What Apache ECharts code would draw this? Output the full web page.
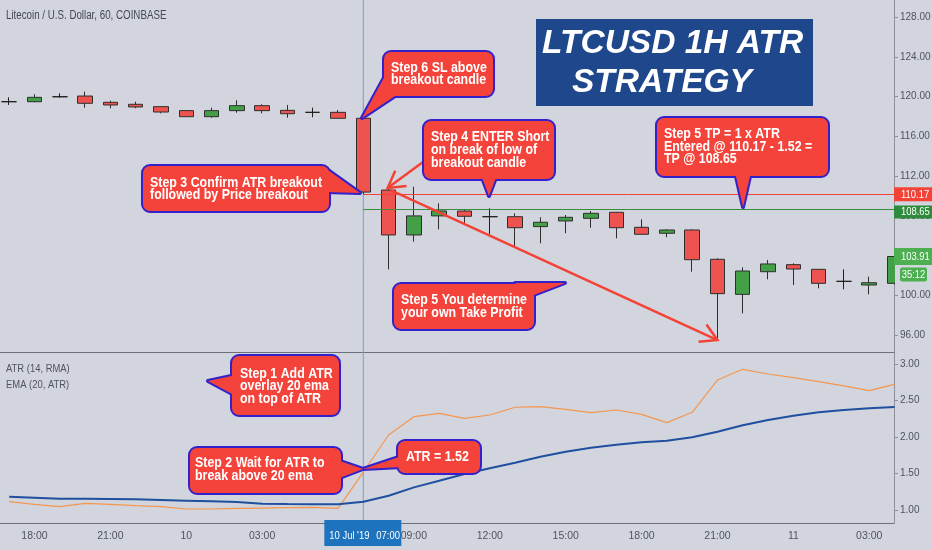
<!DOCTYPE html>
<html><head><meta charset="utf-8">
<script src="https://cdn.jsdelivr.net/npm/echarts@6/dist/echarts.min.js"></script>
<style>html,body{margin:0;padding:0;background:#d2d5dd;}#c{width:932px;height:550px;}</style>
</head><body><div id="c"></div>
<script>
// ---- data (hours since 2019-07-09 00:00) ----
const hours  = [17,18,19,20,21,22,23,24,25,26,27,28,29,30,31,32,33,34,35,36,37,38,39,40,41,42,43,44,45,46,47,48,49,50,51,52];
const opens  = [119.50,119.50,120.00,120.07,119.44,119.24,119.00,118.60,117.99,118.60,119.10,118.63,118.43,118.43,117.83,110.60,106.08,108.00,108.49,107.92,107.92,106.92,107.49,107.76,108.36,106.85,106.25,106.58,103.63,100.10,102.38,103.09,102.62,101.41,101.04,101.21];
const closes = [119.50,119.94,120.00,119.34,119.17,118.97,118.46,117.99,118.60,119.10,118.60,118.29,118.43,117.83,110.40,106.08,108.00,108.50,107.96,107.92,106.81,107.36,107.86,108.26,106.81,106.15,106.58,103.59,100.17,102.45,103.16,102.65,101.21,101.41,101.27,103.91];
const lows   = [119.17,119.45,119.90,118.90,118.84,118.84,118.33,117.95,117.89,118.39,118.33,117.89,117.93,117.80,110.17,102.62,105.40,106.65,107.20,106.18,104.90,105.24,106.25,106.81,105.74,106.10,105.85,102.38, 95.50, 98.19,101.61,101.04,100.71,100.61,100.10,101.10];
const highs  = [119.94,120.25,120.35,120.51,119.60,119.50,119.05,118.65,118.90,119.64,119.24,119.17,118.90,118.66,117.90,110.80,110.94,109.27,108.70,108.77,108.26,107.86,108.09,108.49,108.40,107.66,106.65,106.65,103.73,102.82,103.56,103.23,102.65,102.62,101.88,104.00];
const atr14  = [1.114,1.078,1.045,1.092,1.078,1.059,1.045,1.014,1.014,1.023,1.027,1.032,1.037,1.023,1.52,2.027,2.278,2.324,2.256,2.301,2.407,2.415,2.379,2.333,2.37,2.31,2.196,2.338,2.78,2.927,2.863,2.813,2.758,2.699,2.635,2.72];
const ema20  = [1.182,1.169,1.155,1.153,1.151,1.146,1.137,1.128,1.119,1.11,1.087,1.082,1.078,1.078,1.114,1.196,1.31,1.40,1.493,1.571,1.648,1.73,1.799,1.854,1.895,1.927,1.95,1.996,2.073,2.16,2.233,2.292,2.338,2.37,2.393,2.41];
const xTicks = [18,21,24,27,33,36,39,42,45,48,51];
const priceTicks = [96,100,104,108,112,116,120,124,128];
const atrTicks = [1.0,1.5,2.0,2.5,3.0];
const entryPrice = 110.17, tpPrice = 108.65, lastPrice = 103.91, countdown = '35:12';
const crossHour = 31, crossLabel = ["10 Jul '19", "07:00"];
const xMin = 16.636, xMax = 51.98;

// ---- styles ----
const BG = '#d2d5dd';
const NF = "'Liberation Sans',Arial,sans-serif";
const RED = '#f3433a', BLUE = '#3322cc', AX = '#8e9099';
const xFmt = h => h === 24 ? '10' : h === 48 ? '11' : String(h % 24).padStart(2, '0') + ':00';

const candleData = hours.map((h, i) => [h, opens[i], closes[i], lows[i], highs[i]]);

const option = {
  backgroundColor: BG,
  animation: false,
  grid: [
    {left: 0, right: 38, top: 0, height: 352, outerBoundsMode: 'none', containLabel: false},
    {left: 0, right: 38, top: 352, height: 171, outerBoundsMode: 'none', containLabel: false}
  ],
  xAxis: [
    {type: 'value', gridIndex: 0, min: xMin, max: xMax,
     axisLine: {show: true, onZero: false, lineStyle: {color: '#6d7079'}},
     axisTick: {show: false}, axisLabel: {show: false}, splitLine: {show: false}},
    {type: 'value', gridIndex: 1, min: xMin, max: xMax,
     axisLine: {show: true, onZero: false, lineStyle: {color: '#6d7079'}},
     axisTick: {show: false}, splitLine: {show: false},
     axisLabel: {customValues: xTicks, formatter: v => xFmt(v), color: '#50535c', fontSize: 10.5, fontFamily: NF, margin: 8, hideOverlap: false}}
  ],
  yAxis: [
    {type: 'value', gridIndex: 0, position: 'right', min: 94.294, max: 129.742,
     axisLine: {show: true, lineStyle: {color: AX}},
     axisTick: {show: true, length: 4, customValues: priceTicks, lineStyle: {color: AX}},
     axisLabel: {customValues: priceTicks, formatter: v => v.toFixed(2), color: '#50535c', fontSize: 10, fontFamily: NF, margin: 6},
     splitLine: {show: false}},
    {type: 'value', gridIndex: 1, position: 'right', min: 0.822, max: 3.164,
     axisLine: {show: true, lineStyle: {color: AX}},
     axisTick: {show: true, length: 4, customValues: atrTicks, lineStyle: {color: AX}},
     axisLabel: {customValues: atrTicks, formatter: v => v.toFixed(2), color: '#50535c', fontSize: 10, fontFamily: NF, margin: 6},
     splitLine: {show: false}}
  ],
  series: [
    {type: 'candlestick', xAxisIndex: 0, yAxisIndex: 0, data: candleData,
     encode: {x: 0, y: [1, 2, 3, 4]}, barWidth: 15, clip: false,
     itemStyle: {color: '#43a047', color0: '#ef5350', borderColor: '#2e2e2e', borderColor0: '#2e2e2e', borderColorDoji: '#1e1e1e', borderWidth: 1},
     markLine: {silent: true, symbol: ['none', 'none'], label: {show: false}, animation: false,
       data: [
         [{coord: [crossHour, entryPrice], lineStyle: {color: '#f44336', width: 1, type: 'solid'}}, {coord: [xMax, entryPrice]}],
         [{coord: [crossHour, tpPrice], lineStyle: {color: '#388e3c', width: 1, type: 'solid'}}, {coord: [xMax, tpPrice]}]
       ]}},
    {type: 'line', xAxisIndex: 1, yAxisIndex: 1, data: hours.map((h, i) => [h, atr14[i]]),
     showSymbol: false, lineStyle: {color: '#f5964f', width: 1.2}, itemStyle: {color: '#f5964f'}},
    {type: 'line', xAxisIndex: 1, yAxisIndex: 1, data: hours.map((h, i) => [h, ema20[i]]),
     showSymbol: false, lineStyle: {color: '#1f4f9e', width: 2}, itemStyle: {color: '#1f4f9e'}}
  ]
};

const chart = echarts.init(document.getElementById('c'));
chart.setOption(option);

const P = (g, x, y) => chart.convertToPixel({gridIndex: g}, [x, y]);
const TXT = (t, x, y, font, fill, z, align, sx) => ({type: 'text', z: z || 103, x: x, y: y, scaleX: sx || 1,
  style: {text: t, x: 0, y: 0, fill: fill || '#fff', font: font, align: align || 'left', verticalAlign: 'middle'}});
const CF = "bold 15.5px " + NF, CS = 0.8;

function callout(box, tail, lines, tx, ty0, dy) {
  const els = [
    {type: 'polygon', z: 100, shape: {points: tail}, style: {fill: RED, stroke: BLUE, lineWidth: 4, lineJoin: 'round'}},
    {type: 'rect', z: 101, shape: {x: box[0], y: box[1], width: box[2], height: box[3], r: 8}, style: {fill: RED, stroke: BLUE, lineWidth: 2}},
    {type: 'polygon', z: 102, shape: {points: tail}, style: {fill: RED}}
  ];
  lines.forEach((t, i) => els.push(TXT(t, tx, ty0 + i * dy, CF, '#fff', 103, 'left', CS)));
  return els;
}
function arrow(a, b, w) {
  const ang = Math.atan2(a[1] - b[1], a[0] - b[0]), L = 19, s = Math.PI / 6;
  return [
    {type: 'line', z: 99, shape: {x1: a[0], y1: a[1], x2: b[0], y2: b[1]}, style: {stroke: '#f44336', lineWidth: w}},
    {type: 'polyline', z: 99, shape: {points: [[b[0] + L * Math.cos(ang + s), b[1] + L * Math.sin(ang + s)], b, [b[0] + L * Math.cos(ang - s), b[1] + L * Math.sin(ang - s)]]}, style: {stroke: '#f44336', lineWidth: w, fill: null}}
  ];
}

const cx = P(1, crossHour, 1)[0];
const yEntry = P(0, 0, entryPrice)[1], yTp = P(0, 0, tpPrice)[1], yLast = P(0, 0, lastPrice)[1];
const breakTop = P(0, 32, opens[15]);
const lowTip = P(0, 45, lows[28]);
const LF = "11.5px " + NF, LS = 0.82;

let g = [];
// crosshair
g.push({type: 'line', z: 1, shape: {x1: cx, y1: 0, x2: cx, y2: 523}, style: {stroke: '#6aa3db', lineWidth: 1}});
g.push({type: 'rect', z: 110, shape: {x: cx - 39, y: 520, width: 77, height: 26}, style: {fill: '#1e73be'}});
g.push(TXT(crossLabel[0], cx - 34, 536, LF, '#fff', 111, 'left', LS));
g.push(TXT(crossLabel[1], cx + 13, 536, LF, '#fff', 111, 'left', LS));
// headers
g.push(TXT('Litecoin / U.S. Dollar, 60, COINBASE', 6, 16, "12.5px " + NF, '#454852', 5, 'left', 0.78));
g.push(TXT('ATR (14, RMA)', 6, 369, "11.5px " + NF, '#50535c', 5, 'left', 0.82));
g.push(TXT('EMA (20, ATR)', 6, 385, "11.5px " + NF, '#50535c', 5, 'left', 0.82));
// title
g.push({type: 'rect', z: 90, shape: {x: 536, y: 19, width: 277, height: 87}, style: {fill: '#1f478c'}});
g.push(TXT('LTCUSD 1H ATR', 542, 44, "italic bold 33.5px " + NF, '#fff', 91));
g.push(TXT('STRATEGY', 572, 83, "italic bold 33.5px " + NF, '#fff', 91));
// price scale area: the live candle is cut at the scale edge
g.push({type: 'rect', z: 115, shape: {x: 895, y: 240, width: 37, height: 46}, style: {fill: BG}});
// price labels on the right
g.push({type: 'rect', z: 120, shape: {x: 894, y: yEntry - 7, width: 38, height: 14}, style: {fill: '#f44336'}});
g.push(TXT(entryPrice.toFixed(2), 901, yEntry, LF, '#fff', 121, 'left', LS));
g.push({type: 'rect', z: 120, shape: {x: 894, y: yTp - 4, width: 38, height: 13}, style: {fill: '#2e8b3c'}});
g.push(TXT(tpPrice.toFixed(2), 901, yTp + 2.5, LF, '#fff', 121, 'left', LS));
g.push({type: 'rect', z: 120, shape: {x: 894, y: yLast - 8.5, width: 38, height: 17}, style: {fill: '#4caf50'}});
g.push(TXT(lastPrice.toFixed(2), 901, yLast, LF, '#fff', 121, 'left', LS));
g.push({type: 'rect', z: 120, shape: {x: 900, y: yLast + 11, width: 27, height: 14, r: 2}, style: {fill: '#4caf50'}});
g.push(TXT(countdown, 913.5, yLast + 18, LF, '#fff', 121, 'center', LS));
// arrows
g = g.concat(arrow([breakTop[0] + 2, breakTop[1]], [lowTip[0], lowTip[1]], 2.5));
g = g.concat(arrow([423, 162], [breakTop[0] - 1, breakTop[1] - 2], 2.5));
// callouts
g = g.concat(callout([383, 51, 111, 46], [[386, 74], [401, 92], [362, 118]], ['Step 6 SL above', 'breakout candle'], 391, 67.5, 12.5));
g = g.concat(callout([423, 120, 132, 60], [[481, 175], [497, 175], [489, 196]], ['Step 4 ENTER Short', 'on break of low of', 'breakout candle'], 431, 137, 12.8));
g = g.concat(callout([142, 165, 188, 47], [[325, 168], [325, 192], [360, 193]], ['Step 3 Confirm ATR breakout', 'followed by Price breakout'], 150, 182.3, 12.3));
g = g.concat(callout([656, 117, 173, 60], [[735, 172], [751, 172], [743, 207]], ['Step 5 TP = 1 x ATR', 'Entered @ 110.17 - 1.52 =', 'TP @ 108.65'], 664, 133.5, 12.8));
g = g.concat(callout([393, 283, 142, 47], [[515, 283], [531, 296], [565, 283]], ['Step 5 You determine', 'your own Take Profit'], 401, 300, 12.3));
g = g.concat(callout([231, 355, 109, 61], [[236, 375], [236, 396], [208, 381]], ['Step 1 Add ATR', 'overlay 20 ema', 'on top of ATR'], 240, 373.3, 12.8));
g = g.concat(callout([189, 447, 153, 47], [[337, 460], [337, 479], [363, 469]], ['Step 2 Wait for ATR to', 'break above 20 ema'], 195, 463, 12.8));
g = g.concat(callout([397, 440, 84, 34], [[402, 456], [402, 467], [363, 469]], ['ATR = 1.52'], 406, 457, 13));

chart.setOption({graphic: {elements: g}});
</script></body></html>
